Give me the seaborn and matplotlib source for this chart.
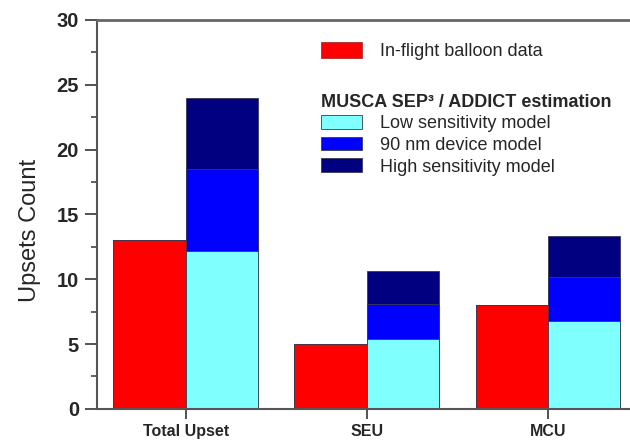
import pandas as pd
import matplotlib.pyplot as plt
import seaborn as sns
from matplotlib.patches import Patch
from matplotlib.ticker import MultipleLocator

# data
categories = ['Total Upset', 'SEU', 'MCU']
balloon = [13.0, 5.0, 8.0]
low_model = [12.2, 5.4, 6.8]
nm90_model = [6.3, 2.7, 3.4]      # added on top of the low model
high_model = [5.5, 2.5, 3.1]      # added on top of the 90 nm model

c_red = '#ff0000'
c_low = '#80ffff'
c_90 = '#0000ff'
c_high = '#000080'

sns.set_style('white')
plt.rcParams['font.family'] = ['Liberation Sans', 'DejaVu Sans']

fig = plt.figure(figsize=(6.3, 4.42), dpi=100)
ax = fig.add_axes([0.154, 0.075, 0.846, 0.88])

# cumulative tops for the stacked model bars, drawn from the top layer down
top_90 = [a + b for a, b in zip(low_model, nm90_model)]
top_high = [a + b for a, b in zip(top_90, high_model)]

for tops, col in [(top_high, c_high), (top_90, c_90), (low_model, c_low)]:
    df = pd.DataFrame({
        'cat': categories * 2,
        'kind': ['balloon'] * 3 + ['model'] * 3,
        'value': balloon + tops,
    })
    sns.barplot(data=df, x='cat', y='value', hue='kind',
                hue_order=['balloon', 'model'],
                palette={'balloon': c_red, 'model': col},
                dodge=True, width=0.8, gap=0, saturation=1,
                errorbar=None, edgecolor='#3a3a50', linewidth=0.6,
                legend=False, ax=ax)

ax.set_xlim(-0.49, 2.453)
ax.set_ylim(0, 30)
ax.yaxis.set_major_locator(MultipleLocator(5))
ax.yaxis.set_minor_locator(MultipleLocator(2.5))
ax.tick_params(axis='y', which='major', direction='out', length=9, width=1.3,
               color='#444444', labelsize=14.5, pad=4, left=True)
ax.tick_params(axis='y', which='minor', direction='out', length=4, width=1.2,
               color='#444444', left=True)
ax.tick_params(axis='x', direction='out', length=7, width=1.3,
               color='#444444', labelsize=11.5, pad=4, bottom=True)
for lab in ax.get_yticklabels() + ax.get_xticklabels():
    lab.set_fontweight('bold')

for side in ['left', 'bottom', 'top']:
    ax.spines[side].set_visible(True)
    ax.spines[side].set_color('#555555')
    ax.spines[side].set_linewidth(1.5)
ax.spines['top'].set_color('#666666')
ax.spines['top'].set_linewidth(2)
ax.spines['right'].set_visible(False)

ax.set_xlabel('')
ax.set_ylabel('Upsets Count', fontsize=17)
ax.yaxis.set_label_coords(-0.105, 0.458)

# legends
leg1 = ax.legend(handles=[Patch(facecolor=c_red, edgecolor='#aa3030', linewidth=0.6)],
                 labels=['In-flight balloon data'],
                 loc='upper left', bbox_to_anchor=(0.42, 0.943),
                 frameon=False, fontsize=13, borderpad=0, borderaxespad=0,
                 handlelength=2.3, handleheight=0.95, handletextpad=0.95)
ax.add_artist(leg1)

model_handles = [Patch(facecolor=c, edgecolor='#3a3a50', linewidth=0.6)
                 for c in [c_low, c_90, c_high]]
leg2 = ax.legend(handles=model_handles,
                 labels=['Low sensitivity model', '90 nm device model',
                         'High sensitivity model'],
                 title='MUSCA SEP³ / ADDICT estimation',
                 title_fontproperties={'weight': 'bold', 'size': 13},
                 alignment='left',
                 loc='upper left', bbox_to_anchor=(0.42, 0.81),
                 frameon=False, fontsize=13, borderpad=0, borderaxespad=0,
                 handlelength=2.3, handleheight=0.8, handletextpad=0.95,
                 labelspacing=0.25)
leg2._legend_box.sep = 3

plt.savefig('out.png', dpi=100)
